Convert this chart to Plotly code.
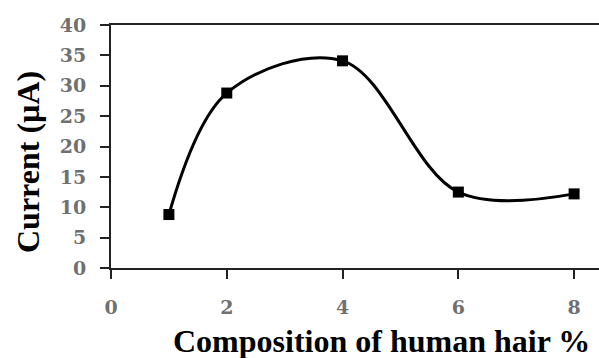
import plotly.graph_objects as go

# Current response vs. human hair composition
composition = [1, 2, 4, 6, 8]
current_uA = [8.8, 28.8, 34.1, 12.5, 12.2]

x_ticks = [0, 2, 4, 6, 8]
y_ticks = [0, 5, 10, 15, 20, 25, 30, 35, 40]

x_title = "Composition of human hair %"
y_title = "Current (µA)"

fig = go.Figure()
fig.add_trace(go.Scatter(
    x=composition,
    y=current_uA,
    mode="lines+markers",
    line=dict(color="black", width=3, shape="spline", smoothing=1),
    marker=dict(symbol="square", size=11, color="black"),
    cliponaxis=False,
    showlegend=False,
))

tick_font = dict(family="DejaVu Serif, serif", size=19, color="#707070", weight="bold")
title_font = dict(family="Liberation Serif, Times New Roman, serif", size=32,
                  color="black", weight="bold")

fig.update_layout(
    width=599,
    height=358,
    margin=dict(l=111, r=0, t=25, b=90),
    paper_bgcolor="white",
    plot_bgcolor="white",
    xaxis=dict(
        range=[0, 8.43],
        tickvals=x_ticks,
        ticks="outside",
        ticklen=9,
        tickwidth=2,
        tickcolor="#222",
        showline=True,
        linecolor="#222",
        linewidth=2,
        mirror=True,
        showgrid=False,
        zeroline=False,
        tickfont=tick_font,
        ticklabelstandoff=12,
    ),
    yaxis=dict(
        range=[0, 40],
        tickvals=y_ticks,
        ticks="outside",
        ticklen=9,
        tickwidth=2,
        tickcolor="#222",
        showline=True,
        linecolor="#222",
        linewidth=2,
        showgrid=False,
        zeroline=False,
        tickfont=tick_font,
        ticklabelstandoff=10,
    ),
    annotations=[
        dict(
            text=x_title, xref="paper", yref="paper",
            x=(381 - 111) / 488, y=-0.30,
            xanchor="center", yanchor="middle",
            showarrow=False, font=title_font,
        ),
        dict(
            text=y_title, xref="paper", yref="paper",
            x=(28 - 111) / 488, y=(268 - 162) / 243,
            xanchor="center", yanchor="middle", textangle=-90,
            showarrow=False, font=title_font,
        ),
    ],
)

fig.write_html("out.html")
